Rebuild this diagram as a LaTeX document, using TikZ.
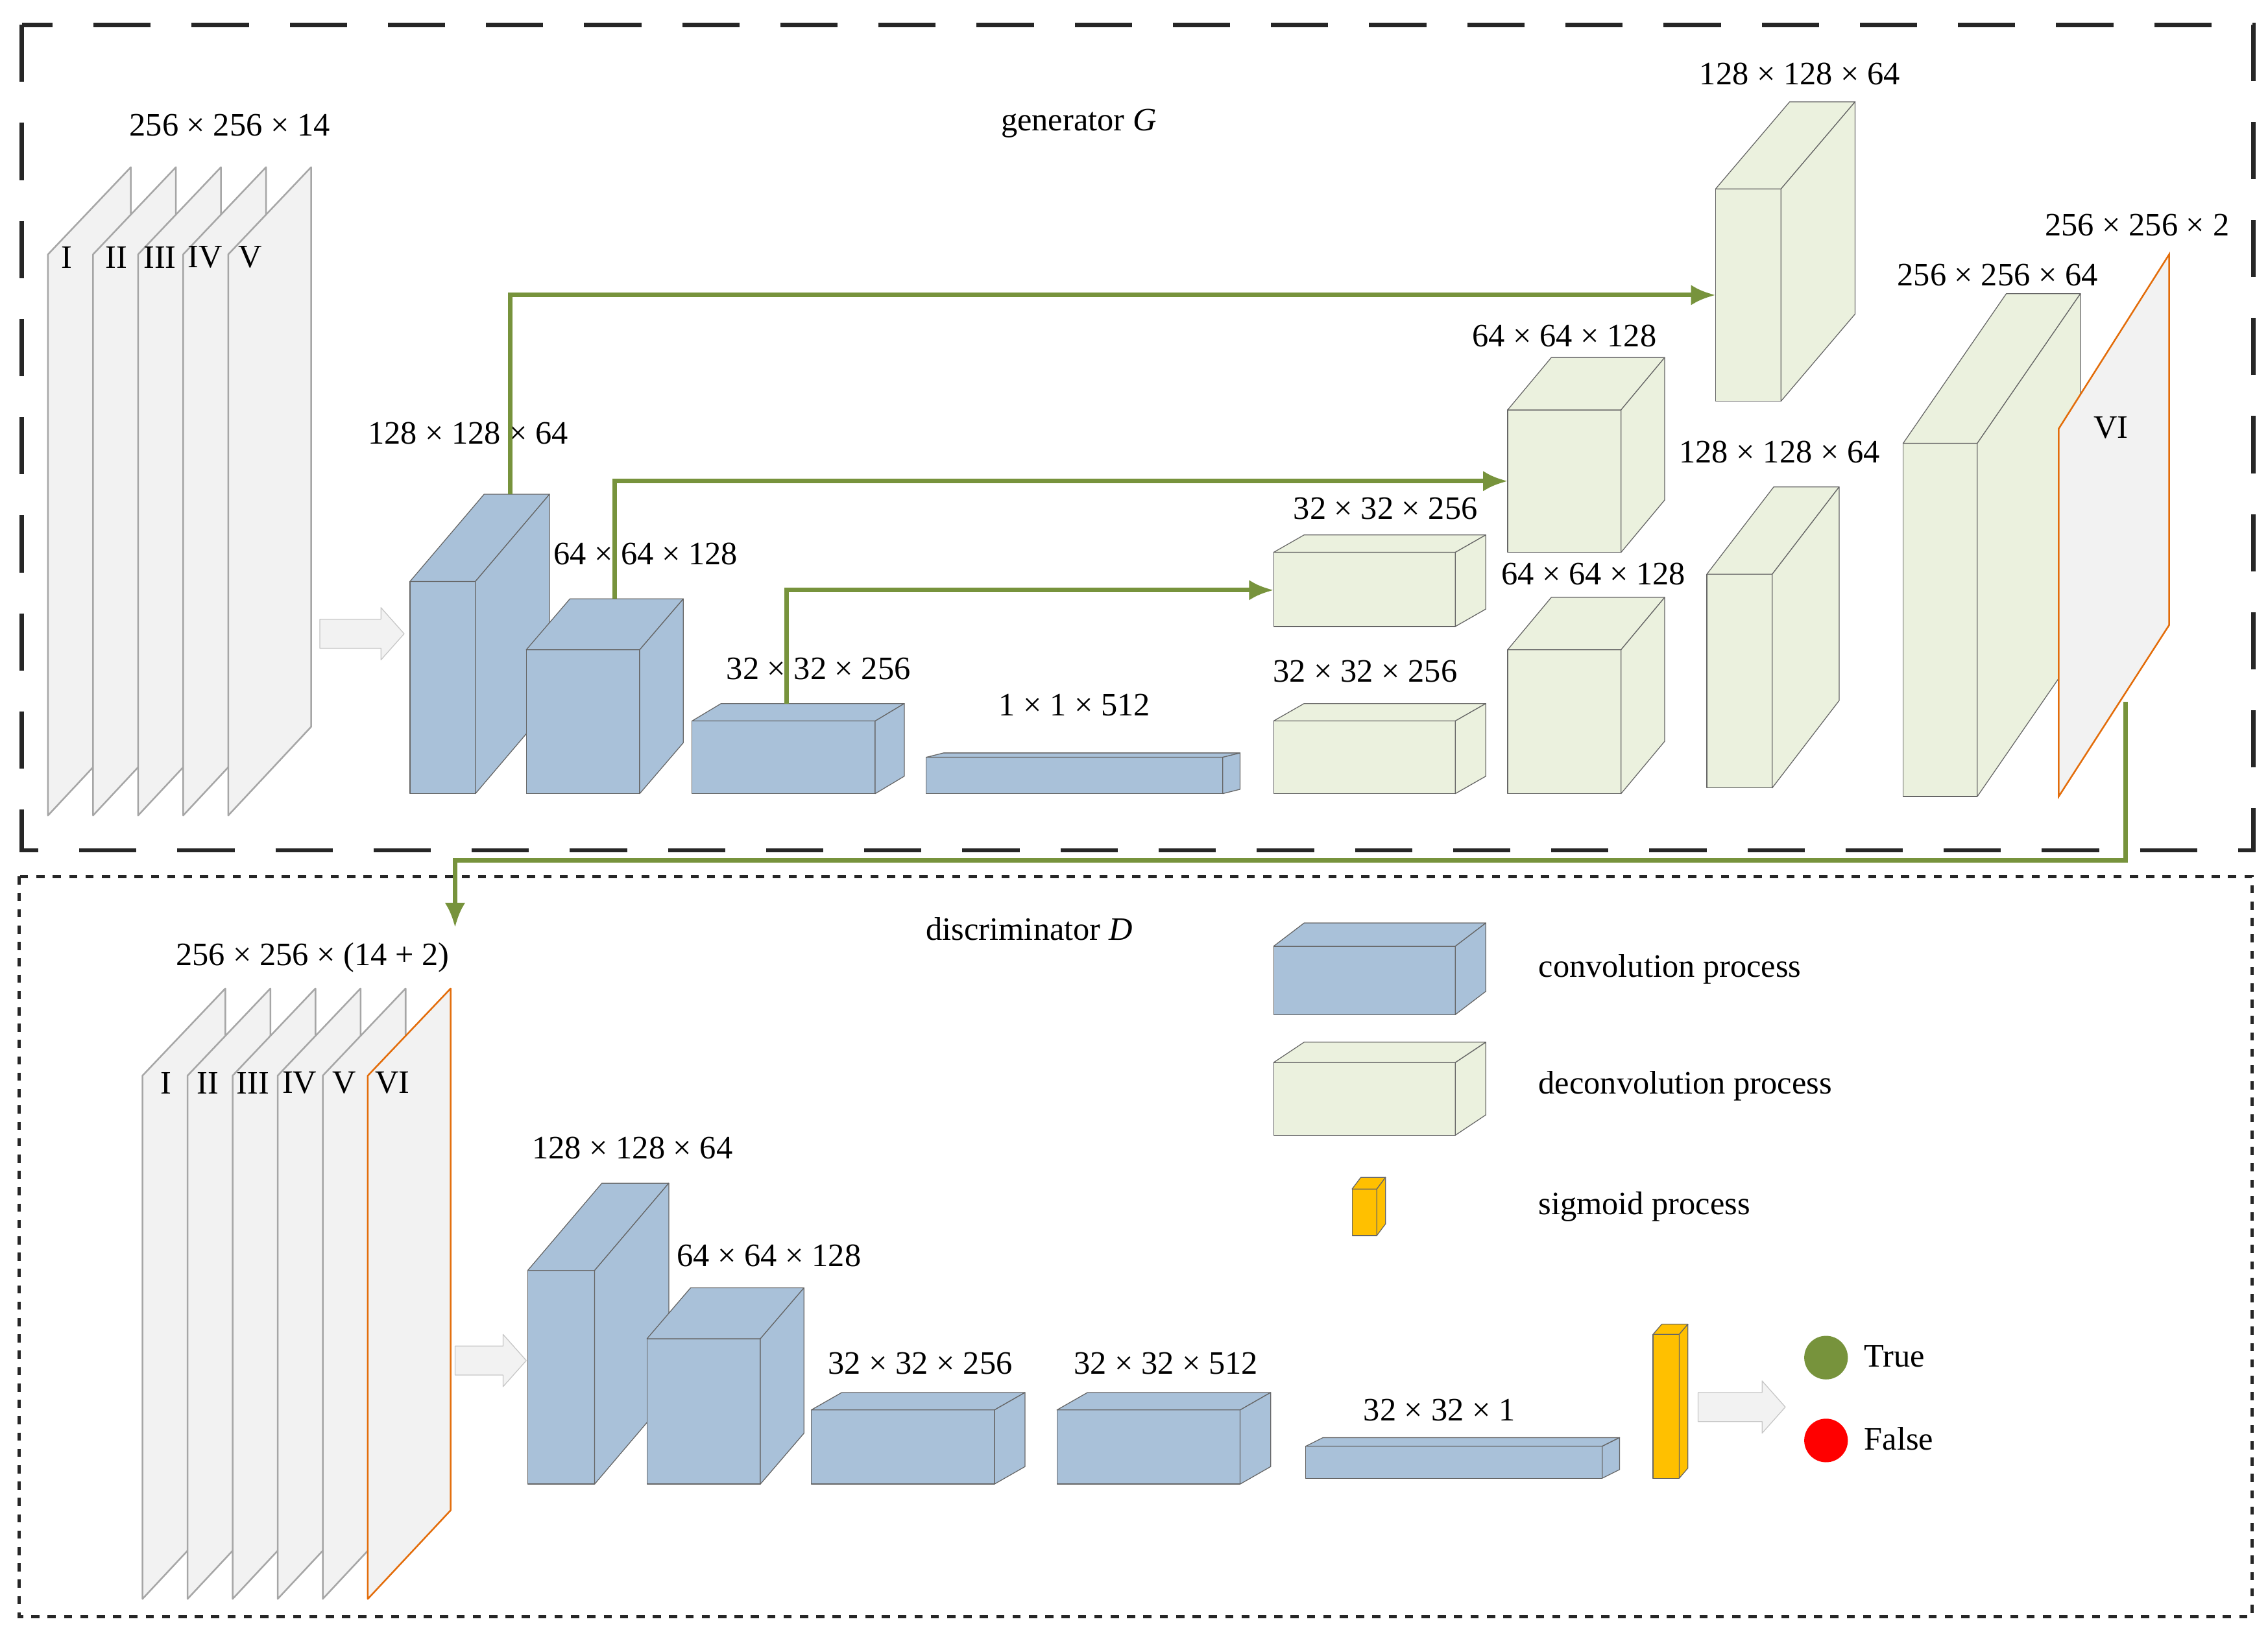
\documentclass[tikz,border=0pt]{standalone}
\usepackage{fontspec}
\setmainfont{Liberation Serif}
\usetikzlibrary{calc,arrows.meta}
\definecolor{cblue}{HTML}{A9C1D9}
\definecolor{cgreen}{HTML}{EBF1DE}
\definecolor{cyel}{HTML}{FFC000}
\definecolor{olive}{HTML}{77933C}
\definecolor{plane}{HTML}{F2F2F2}
\definecolor{orng}{HTML}{E36C09}
\newcommand\mycube[7]{% x1 y1 x2 y2 dx dy fill
 \fill[#7,draw=gray!80!black,line join=round] (#1,#2) rectangle (#3,#4);
 \fill[#7,draw=gray!80!black,line join=round] (#1,#2) -- ++(#5,#6) -- ($(#3,#2)+(#5,#6)$) -- (#3,#2) -- cycle;
 \fill[#7,draw=gray!80!black,line join=round] (#3,#2) -- ++(#5,#6) -- ($(#3,#4)+(#5,#6)$) -- (#3,#4) -- cycle;}
\newcommand\myplane[5]{% x0 ybot ytopleft ytopright color
 \fill[plane,draw=#5,line join=round,thick] (#1,#2) -- (#1,#3) -- (#1+57,#4) -- (#1+57,#2-61) -- cycle;}
\newcommand\blkarrow[3]{% xleft xright ycenter
 \fill[gray!10,draw=gray!45,line join=round] (#1,#3-10) -- (#2-16,#3-10) -- (#2-16,#3-18) -- (#2,#3) -- (#2-16,#3+18) -- (#2-16,#3+10) -- (#1,#3+10) -- cycle;}
\tikzset{lbl/.style={font=\fontsize{16}{19}\selectfont,inner sep=0pt},
 garrow/.style={olive,line width=2.2pt,-{Latex[length=12pt,width=10pt]}}}
\begin{document}
\begin{tikzpicture}[x=0.025cm,y=-0.025cm]
\useasboundingbox (0,0) rectangle (1560,1120);
% frames
\draw[gray!30!black,line width=2.2pt,dash pattern=on 28pt off 20pt] (15,17) rectangle (1550,585);
\draw[gray!30!black,line width=1.6pt,dash pattern=on 4pt off 4pt] (13,603) rectangle (1549,1112);
% generator planes
\foreach \x in {33,64,95,126,157} {\myplane{\x}{561}{175}{115}{gray!70}}
\foreach \x/\t in {46/I,80/II,110/III,141/IV,172/V} \node[lbl] (g\t) at (\x,177) {\t};
\node[lbl] (gin) at (158,86) {256 × 256 × 14};
\node[lbl] (gG) at (742,85) {generator \textit{G}};
% gen cubes
\mycube{282}{400}{327}{546}{51}{-60}{cblue}
\mycube{362}{447}{440}{546}{30}{-35}{cblue}
\mycube{476}{496}{602}{546}{20}{-12}{cblue}
\mycube{637}{521}{841}{546}{12}{-3}{cblue}
\mycube{876}{380}{1001}{431}{21}{-12}{cgreen}
\mycube{876}{496}{1001}{546}{21}{-12}{cgreen}
\mycube{1037}{282}{1115}{380}{30}{-36}{cgreen}
\mycube{1037}{447}{1115}{546}{30}{-36}{cgreen}
\mycube{1180}{130}{1225}{276}{51}{-60}{cgreen}
\mycube{1174}{395}{1219}{542}{46}{-60}{cgreen}
\mycube{1309}{305}{1360}{548}{71}{-103}{cgreen}
\fill[plane,draw=orng,thick] (1416,295) -- (1492,175) -- (1492,430) -- (1416,548) -- cycle;
\node[lbl] (gVI) at (1452,294) {VI};
% gen labels
\node[lbl] (l1) at (322,298) {128 × 128 × 64};
\node[lbl] (l2) at (444,381) {64 × 64 × 128};
\node[lbl] (l3) at (563,460) {32 × 32 × 256};
\node[lbl] (l4) at (739,485) {1 × 1 × 512};
\node[lbl] (l5) at (953,350) {32 × 32 × 256};
\node[lbl] (l6) at (939,462) {32 × 32 × 256};
\node[lbl] (l7) at (1076,231) {64 × 64 × 128};
\node[lbl] (l8) at (1096,395) {64 × 64 × 128};
\node[lbl] (l9) at (1238,51) {128 × 128 × 64};
\node[lbl] (l10) at (1224,311) {128 × 128 × 64};
\node[lbl] (l11) at (1374,189) {256 × 256 × 64};
\node[lbl] (l12) at (1470,155) {256 × 256 × 2};
\blkarrow{220}{278}{436}
% skip arrows
\coordinate (s1a) at (351,340); \coordinate (s1b) at (1180,203);
\coordinate (s2a) at (423,412); \coordinate (s2b) at (1037,331);
\coordinate (s3a) at (541,484); \coordinate (s3b) at (876,406);
\draw[garrow] (s1a) |- (s1b);
\draw[garrow] (s2a) |- (s2b);
\draw[garrow] (s3a) |- (s3b);
\coordinate (o1) at (1462,483); \coordinate (o2) at (313,638);
\draw[garrow] (o1) -- (1462,592) -| (o2);
% discriminator
\node[lbl] (dD) at (708,639) {discriminator \textit{D}};
\foreach \x in {98,129,160,191,222} {\myplane{\x}{1100}{740}{680}{gray!70}}
\myplane{253}{1100}{740}{680}{orng}
\foreach \x/\t in {114/I,143/II,174/III,206/IV,237/V,270/VI} \node[lbl] (d\t) at (\x,745) {\t};
\node[lbl] (din) at (215,659) {256 × 256 × (14 + 2)};
\blkarrow{313}{362}{936}
\mycube{363}{874}{409}{1021}{51}{-60}{cblue}
\mycube{445}{921}{523}{1021}{30}{-35}{cblue}
\mycube{558}{970}{684}{1021}{21}{-12}{cblue}
\mycube{727}{970}{853}{1021}{21}{-12}{cblue}
\mycube{898}{995}{1102}{1017}{12}{-6}{cblue}
\mycube{1137}{918}{1155}{1017}{6}{-7}{cyel}
\node[lbl] (m1) at (435,790) {128 × 128 × 64};
\node[lbl] (m2) at (529,864) {64 × 64 × 128};
\node[lbl] (m3) at (633,938) {32 × 32 × 256};
\node[lbl] (m4) at (802,938) {32 × 32 × 512};
\node[lbl] (m5) at (990,970) {32 × 32 × 1};
\blkarrow{1168}{1228}{968}
\fill[olive] (1256,934) circle (15);
\fill[red] (1256,991) circle (15);
\node[lbl,anchor=west] (tT) at (1282,933) {True};
\node[lbl,anchor=west] (tF) at (1282,990) {False};
% legend
\mycube{876}{651}{1001}{698}{21}{-16}{cblue}
\mycube{876}{731}{1001}{781}{21}{-14}{cgreen}
\mycube{930}{818}{947}{850}{6}{-8}{cyel}
\node[lbl,anchor=west] (lg1) at (1058,667) {convolution process};
\node[lbl,anchor=west] (lg2) at (1058,747) {deconvolution process};
\node[lbl,anchor=west] (lg3) at (1058,830) {sigmoid process};
\end{tikzpicture}
\end{document}
